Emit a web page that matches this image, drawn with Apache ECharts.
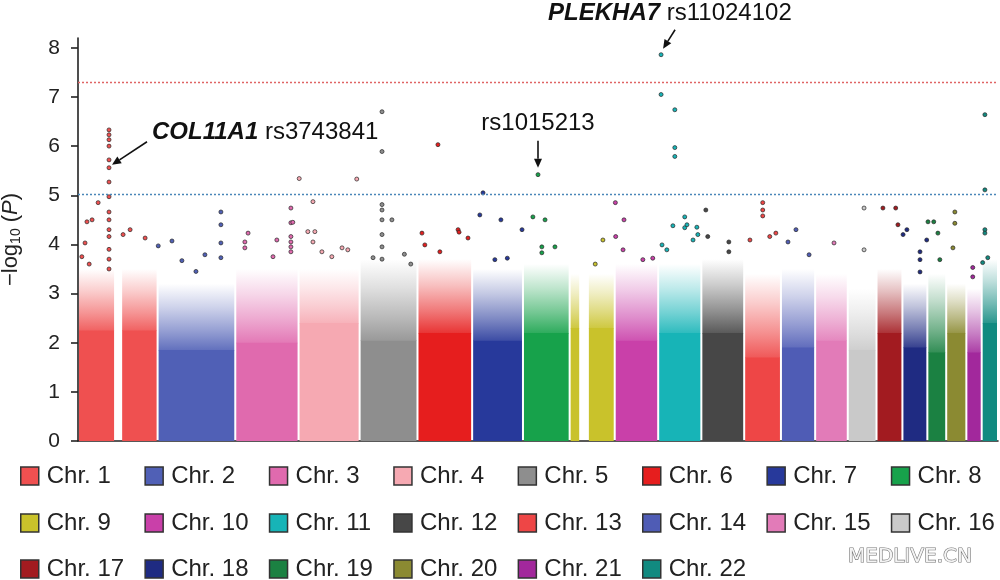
<!DOCTYPE html>
<html><head><meta charset="utf-8">
<script src="https://cdn.jsdelivr.net/npm/echarts@6/dist/echarts.min.js"></script>
<style>html,body{margin:0;padding:0;background:#fff}#c{width:1000px;height:580px}</style>
</head><body><div id="c"></div>
<script>
// ---------- data ----------
const chrNames = ['Chr. 1','Chr. 2','Chr. 3','Chr. 4','Chr. 5','Chr. 6','Chr. 7','Chr. 8','Chr. 9','Chr. 10','Chr. 11',
  'Chr. 12','Chr. 13','Chr. 14','Chr. 15','Chr. 16','Chr. 17','Chr. 18','Chr. 19','Chr. 20','Chr. 21','Chr. 22'];
const chrLengths = [249,243,198,191,181,171,159,146,141,136,135,134,115,107,102,90,81,78,59,63,48,51]; // Mb
const chrColors = ['#ef5050','#5060b6','#e06aae','#f6a9b2','#8e8e8e','#e61e1e','#27399b','#17a24b','#c9c22b','#c940a9','#17b4b7',
  '#474747','#ee4646','#4f5cb5','#e27bb8','#c9c9c9','#a21b20','#1f2b82','#1b8142','#8b8a32','#a2289c','#118a80'];
// covered genomic segments [chr, startMb, endMb] (white gaps at chr1 and chr9 centromeres)
const chrSegments = [[1,0,116],[1,135,249],[2,0,243],[3,0,198],[4,0,191],[5,0,181],[6,0,171],[7,0,159],[8,0,146],
  [9,0,33],[9,57,141],[10,0,136],[11,0,135],[12,0,134],[13,0,115],[14,0,107],[15,0,102],[16,0,90],[17,0,81],
  [18,0,78],[19,0,59],[20,0,63],[21,0,48],[22,0,51]];
// -log10(P) level up to which the SNP cloud is solid, and the level where the speckled cloud fades out
const solidLevel   = [2.25,1.85,2.0,2.4,2.05,2.2,2.05,2.2,2.3,2.05,2.2,2.2,1.7,1.9,2.05,1.85,2.2,1.9,1.8,2.2,1.8,2.4];
const speckleLevel = [3.5,3.2,3.5,3.5,3.7,3.7,3.5,3.6,3.4,3.6,3.6,3.7,3.4,3.5,3.4,3.1,3.5,3.2,3.4,3.2,3.1,3.7];
// individual SNPs above the cloud: [chr, positionMb, -log10(P)]
const topSnps = [
  [1,97,6.33],[1,97,6.23],[1,97,6.13],[1,97,6.0],[1,97,5.72],[1,97,5.56],[1,97,5.27],[1,97,4.97],[1,97,4.66],[1,97,4.5],
  [1,97,4.3],[1,97,4.16],[1,97,3.9],[1,97,3.7],[1,97,3.5],[1,63,4.85],[1,28,4.46],[1,44,4.5],[1,22,4.03],[1,141,4.2],
  [1,163,4.3],[1,210,4.13],[1,12,3.75],[1,35,3.6],
  [2,2,3.97],[2,45,4.07],[2,76,3.67],[2,148,3.79],[2,198,4.66],[2,198,4.4],[2,198,4.03],[2,198,3.73],[2,120,3.45],
  [3,40,4.23],[3,30,4.05],[3,30,3.93],[3,130,4.09],[3,118,3.75],[3,174,4.74],[3,174,4.44],[3,174,4.16],[3,174,4.05],
  [3,174,3.95],[3,174,3.85],[3,180,4.45],
  [4,2,5.34],[4,45,4.87],[4,29,4.26],[4,51,4.26],[4,45,4.05],[4,73,3.85],[4,104,3.75],[4,136,3.93],[4,154,3.89],[4,182,5.33],
  [5,70,6.70],[5,70,5.89],[5,70,4.81],[5,70,4.7],[5,70,4.5],[5,70,4.2],[5,70,3.95],[5,70,3.7],[5,101,4.5],[5,42,3.73],
  [5,140,3.8],[5,160,3.6],
  [6,64,6.03],[6,14,4.23],[6,23,3.99],[6,127,4.3],[6,130,4.25],[6,158,4.13],[6,70,3.85],
  [7,34,5.05],[7,24,4.6],[7,90,4.5],[7,71,3.69],[7,110,3.72],[7,156,4.3],
  [8,47,5.42],[8,31,4.56],[8,69,4.5],[8,59,3.95],[8,59,3.83],[8,100,3.95],
  [9,104,4.09],[9,80,3.6],
  [10,2,4.85],[10,3,4.16],[10,29,4.5],[10,26,3.89],[10,119,3.72],[10,88,3.69],
  [11,9,7.86],[11,9,7.05],[11,52,6.74],[11,52,5.97],[11,52,5.79],[11,12,3.99],[11,27,3.89],[11,46,4.38],[11,83,4.56],
  [11,83,4.34],[11,90,4.4],[11,121,4.35],[11,109,4.09],[11,124,4.2],
  [12,14,4.7],[12,20,4.16],[12,86,4.05],[12,86,3.85],
  [13,58,4.85],[13,58,4.7],[13,58,4.58],[13,18,4.09],[13,80,4.16],[13,99,4.23],
  [14,22,4.05],[14,47,4.3],[14,88,3.79],
  [15,59,4.03],
  [16,51,4.74],[16,51,3.89],
  [17,20,4.74],[17,60,4.74],[17,67,4.4],
  [18,2,4.2],[18,14,4.3],[18,55,3.85],[18,55,3.69],[18,55,3.44],[18,76,4.09],
  [19,2,4.46],[19,20,4.46],[19,33,4.23],[19,39,3.69],
  [20,27,4.66],[20,27,4.43],[20,21,3.93],
  [21,20,3.53],[21,20,3.34],
  [22,10,6.64],[22,10,5.11],[22,10,4.3],[22,10,4.23],[22,19,3.73],[22,3,3.63]
];
const thresholds = [7.3, 5.03];              // genome-wide / suggestive
const yTicks = [0,1,2,3,4,5,6,7,8];
// annotated SNPs: [chr, positionMb, -log10(P), gene, rsID]
const annotations = [[1,97,5.56,'COL11A1','rs3743841'],[8,47,5.42,'','rs1015213'],[11,9,7.86,'PLEKHA7','rs11024102']];

// ---------- chart ----------
const FONT = '"Liberation Sans", Arial, sans-serif';
const cumStart = [];
chrLengths.reduce((acc, l, i) => { cumStart[i] = acc; return acc + l; }, 0);
const totalLen = chrLengths.reduce((a, b) => a + b, 0);

function rgba(hex, a) {
  const n = parseInt(hex.slice(1), 16);
  return 'rgba(' + (n >> 16 & 255) + ',' + (n >> 8 & 255) + ',' + (n & 255) + ',' + a + ')';
}

function blockItem(params, api) {
  const s = api.value(0), e = api.value(1), lo = api.value(2), hi = api.value(3);
  const p0 = api.coord([s, 0]), p1 = api.coord([e, lo]), p2 = api.coord([e, hi]);
  const x0 = p0[0] + 1, x1 = p1[0] - 1;
  const col = api.visual('color');
  return { type: 'group', children: [
    { type: 'rect', shape: { x: x0, y: p1[1], width: x1 - x0, height: p0[1] - p1[1] }, style: { fill: col } },
    { type: 'rect', shape: { x: x0, y: p2[1], width: x1 - x0, height: p1[1] - p2[1] + 0.5 },
      style: { fill: new echarts.graphic.LinearGradient(0, 0, 0, 1, [
        { offset: 0, color: rgba(col, 0) }, { offset: 0.35, color: rgba(col, 0.28) },
        { offset: 0.7, color: rgba(col, 0.6) }, { offset: 1, color: rgba(col, 0.9) }]) } }
  ]};
}

const series = [];
chrNames.forEach((name, i) => {
  series.push({
    type: 'custom', name: name, renderItem: blockItem, silent: true, z: 1,
    itemStyle: { color: chrColors[i] },
    encode: { x: [0, 1], y: [2, 3] },
    data: chrSegments.filter(s => s[0] === i + 1).map(s => [cumStart[i] + s[1], cumStart[i] + s[2], solidLevel[i], speckleLevel[i]])
  });
});
chrNames.forEach((name, i) => {
  series.push({
    type: 'scatter', name: name, symbolSize: 4, z: 3,
    itemStyle: { color: chrColors[i], borderColor: 'rgba(40,40,40,0.8)', borderWidth: 0.9, opacity: 1 },
    data: topSnps.filter(p => p[0] === i + 1).map(p => [cumStart[i] + p[1], p[2]])
  });
});
series.push({
  type: 'line', data: [], silent: true,
  markLine: {
    silent: true, symbol: 'none', label: { show: false },
    data: [
      { yAxis: thresholds[0], lineStyle: { color: '#e06464', type: [2, 2], width: 1.4 } },
      { yAxis: thresholds[1], lineStyle: { color: '#4a86b8', type: [2, 2], width: 1.4 } }
    ]
  }
});

const legends = chrNames.map((name, i) => ({
  data: [name], left: 20 + (i % 8) * 124.4, top: [464, 511, 557][Math.floor(i / 8)], padding: 0,
  icon: 'rect', itemWidth: 18, itemHeight: 18, selectedMode: false,
  itemStyle: { borderColor: '#333', borderWidth: 1.5 },
  textStyle: { fontSize: 24, color: '#222', fontFamily: FONT, padding: [0, 0, 0, 3] }
}));

const chart = echarts.init(document.getElementById('c'));
chart.setOption({
  animation: false,
  backgroundColor: '#fff',
  grid: { left: 78, right: 2, top: 38, bottom: 139, containLabel: false, outerBoundsMode: 'none' },
  xAxis: { type: 'value', min: 0, max: totalLen,
    axisLine: { show: true, onZero: false, lineStyle: { color: '#222', width: 1.6 } },
    axisTick: { show: false }, axisLabel: { show: false }, splitLine: { show: false } },
  yAxis: { type: 'value', min: 0, max: 8.2,
    axisLine: { show: true, lineStyle: { color: '#222', width: 1.6 } },
    axisTick: { show: true, length: 7, lineStyle: { color: '#222', width: 1.6 }, customValues: yTicks },
    axisLabel: { fontSize: 21, color: '#222', margin: 18, fontFamily: FONT, customValues: yTicks },
    splitLine: { show: false },
    name: '{t|−log}{s|10}{t| (}{i|P}{t|)}', nameLocation: 'middle', nameRotate: 90, nameGap: 55,
    nameTextStyle: { color: '#222', fontFamily: FONT, fontSize: 22,
      rich: { t: { fontSize: 22, fontFamily: FONT, color: '#222' },
              s: { fontSize: 14, fontFamily: FONT, color: '#222', padding: [10, 0, 0, 0] },
              i: { fontSize: 22, fontFamily: FONT, color: '#222', fontStyle: 'italic' } } } },
  legend: legends,
  series: series
});

// ---------- annotations (anchored to their SNPs) ----------
function arrow(x1, y1, x2, y2) {
  const a = Math.atan2(y2 - y1, x2 - x1), L = 9, W = 4;
  const bx = x2 - L * Math.cos(a), by = y2 - L * Math.sin(a);
  const nx = -Math.sin(a) * W, ny = Math.cos(a) * W;
  return [
    { type: 'line', shape: { x1: x1, y1: y1, x2: bx, y2: by }, style: { stroke: '#111', lineWidth: 1.6 } },
    { type: 'polygon', shape: { points: [[x2, y2], [bx + nx, by + ny], [bx - nx, by - ny]] }, style: { fill: '#111' } }
  ];
}
const rich = { b: { fontSize: 24, fontFamily: FONT, fontStyle: 'italic', fontWeight: 'bold', fill: '#111' } };
const layout = [
  { tx: 43, ty: -35, align: 'left', a: [38, -26, 3, -3] },
  { tx: 0, ty: -51, align: 'center', a: [0, -34, 0, -7] },
  { tx: -113, ty: -41, align: 'left', a: [14, -25, 2, -6] }
];
const graphics = [];
annotations.forEach((an, k) => {
  const p = chart.convertToPixel({ gridIndex: 0 }, [cumStart[an[0] - 1] + an[1], an[2]]);
  const L = layout[k];
  graphics.push({ type: 'text', x: p[0] + L.tx, y: p[1] + L.ty, z: 10,
    style: { text: (an[3] ? '{b|' + an[3] + '} ' : '') + an[4], rich: rich, fontSize: 24, fontFamily: FONT,
      fill: '#111', align: L.align, verticalAlign: 'middle' } });
  arrow(p[0] + L.a[0], p[1] + L.a[1], p[0] + L.a[2], p[1] + L.a[3]).forEach(g => { g.z = 10; graphics.push(g); });
});
graphics.push({ type: 'text', x: 848, y: 557, z: 10,
  style: { text: 'MEDLIVE.CN', fontSize: 20, fontFamily: '"DejaVu Sans", sans-serif', fill: '#f4f4f4',
    stroke: '#777', lineWidth: 1.2, verticalAlign: 'middle', align: 'left' } });
chart.setOption({ graphic: graphics });
</script>
</body></html>
